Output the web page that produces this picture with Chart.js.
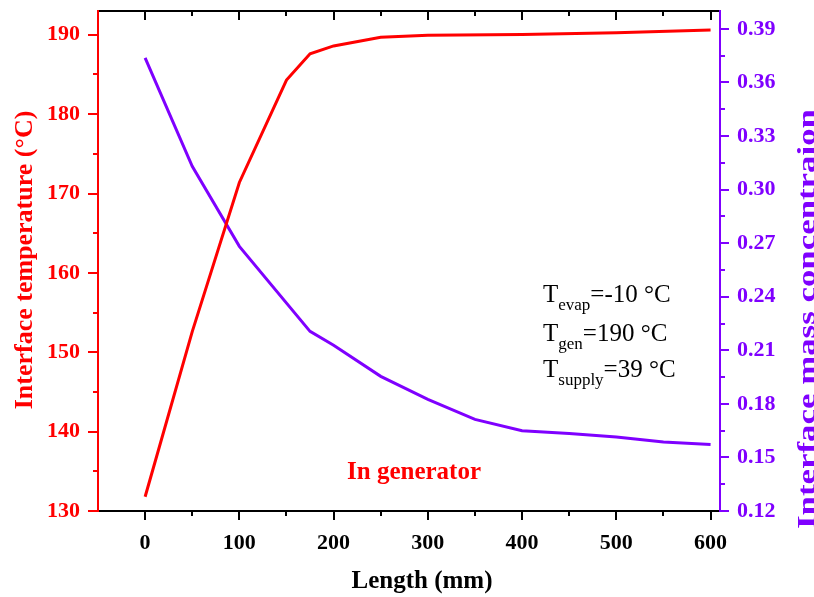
<!DOCTYPE html>
<html>
<head>
<meta charset="utf-8">
<script src="https://cdn.jsdelivr.net/npm/chart.js@4.4.1/dist/chart.umd.min.js"></script>
<style>
  html, body { margin: 0; padding: 0; background: #ffffff; }
  #wrap { width: 814px; height: 597px; }
</style>
</head>
<body>
<div id="wrap"><canvas id="c" width="814" height="597"></canvas></div>
<script>
// ---- data ----
const tempX = [0, 50, 100, 150, 175, 200, 250, 300, 400, 500, 600];
const tempY = [131.8, 152.6, 171.4, 184.3, 187.6, 188.6, 189.7, 189.95, 190.05, 190.25, 190.6];
const concX = [0, 50, 100, 175, 200, 250, 300, 350, 400, 450, 500, 550, 600];
const concY = [0.3738, 0.3130, 0.2682, 0.2206, 0.2128, 0.1954, 0.1825, 0.1713, 0.1650, 0.1634, 0.1614, 0.1586, 0.1573];
const xTicks = [0, 100, 200, 300, 400, 500, 600];
const xMinor = [50, 150, 250, 350, 450, 550];
const leftTicks = [130, 140, 150, 160, 170, 180, 190];
const leftMinor = [135, 145, 155, 165, 175, 185];
const rightTicks = [0.12, 0.15, 0.18, 0.21, 0.24, 0.27, 0.30, 0.33, 0.36, 0.39];
const rightMinor = [0.135, 0.165, 0.195, 0.225, 0.255, 0.285, 0.315, 0.345, 0.375];
const xTitle = 'Length (mm)';
const leftTitle = 'Interface temperature (°C)';
const rightTitle = 'Interface mass concentraion';
const noteLines = [['T', 'evap', '=-10 °C'], ['T', 'gen', '=190 °C'], ['T', 'supply', '=39 °C']];
const noteLabel = 'In generator';

const RED = '#ff0000';
const PURPLE = '#7f00ff';
const SERIF = '"Liberation Serif", "Times New Roman", serif';

const toPts = (xs, ys) => xs.map((x, i) => ({ x: x, y: ys[i] }));

const zeroPad = s => { s.paddingTop = 0; s.paddingBottom = 0; s.paddingLeft = 0; s.paddingRight = 0; };

const axesPlugin = {
  id: 'axesPlugin',
  afterDraw(chart) {
    const ctx = chart.ctx;
    const a = chart.chartArea;
    const sx = chart.scales.x, sl = chart.scales.y, sr = chart.scales.y1;
    ctx.save();
    ctx.lineCap = 'butt';
    // bottom and top frame
    ctx.strokeStyle = '#000';
    ctx.lineWidth = 2;
    ctx.beginPath();
    ctx.moveTo(a.left, a.bottom); ctx.lineTo(a.right, a.bottom);
    ctx.moveTo(a.left, a.top); ctx.lineTo(a.right, a.top);
    ctx.stroke();
    ctx.beginPath();
    xTicks.forEach(v => {
      const p = Math.round(sx.getPixelForValue(v));
      ctx.moveTo(p, a.bottom); ctx.lineTo(p, a.bottom + 9);
      ctx.moveTo(p, a.top); ctx.lineTo(p, a.top + 9);
    });
    xMinor.forEach(v => {
      const p = Math.round(sx.getPixelForValue(v));
      ctx.moveTo(p, a.bottom); ctx.lineTo(p, a.bottom + 5);
      ctx.moveTo(p, a.top); ctx.lineTo(p, a.top + 5);
    });
    ctx.stroke();
    // left axis
    ctx.strokeStyle = RED;
    ctx.beginPath();
    ctx.moveTo(a.left, a.top - 1); ctx.lineTo(a.left, a.bottom + 1);
    leftTicks.forEach(v => {
      const p = Math.round(sl.getPixelForValue(v));
      ctx.moveTo(a.left, p); ctx.lineTo(a.left - 10, p);
    });
    leftMinor.forEach(v => {
      const p = Math.round(sl.getPixelForValue(v));
      ctx.moveTo(a.left, p); ctx.lineTo(a.left - 5, p);
    });
    ctx.stroke();
    // right axis
    ctx.strokeStyle = PURPLE;
    ctx.beginPath();
    ctx.moveTo(a.right, a.top - 1); ctx.lineTo(a.right, a.bottom + 1);
    rightTicks.forEach(v => {
      const p = Math.round(sr.getPixelForValue(v));
      ctx.moveTo(a.right, p); ctx.lineTo(a.right + 9, p);
    });
    rightMinor.forEach(v => {
      const p = Math.round(sr.getPixelForValue(v));
      ctx.moveTo(a.right, p); ctx.lineTo(a.right + 5, p);
    });
    ctx.stroke();

    // axis titles
    ctx.font = 'bold 25px ' + SERIF;
    ctx.fillStyle = '#000';
    ctx.textAlign = 'center';
    ctx.textBaseline = 'alphabetic';
    ctx.fillText(xTitle, 422, 588);

    ctx.save();
    ctx.fillStyle = RED;
    ctx.font = 'bold 26px ' + SERIF;
    ctx.translate(32, 260);
    ctx.rotate(-Math.PI / 2);
    ctx.fillText(leftTitle, 0, 0);
    ctx.restore();

    ctx.save();
    ctx.fillStyle = PURPLE;
    ctx.font = 'bold 26px ' + SERIF;
    const w = ctx.measureText(rightTitle).width;
    ctx.translate(815, 319);
    ctx.rotate(-Math.PI / 2);
    ctx.scale(420 / w, 1);
    ctx.fillText(rightTitle, 0, 0);
    ctx.restore();

    // annotation
    ctx.textAlign = 'left';
    ctx.fillStyle = '#000';
    const baselines = [302, 341, 377];
    noteLines.forEach((ln, i) => {
      let x = 543;
      const y = baselines[i];
      ctx.font = '25px ' + SERIF;
      ctx.fillText(ln[0], x, y);
      x += ctx.measureText(ln[0]).width;
      ctx.font = '17px ' + SERIF;
      ctx.fillText(ln[1], x, y + 8);
      x += ctx.measureText(ln[1]).width;
      ctx.font = '25px ' + SERIF;
      ctx.fillText(ln[2], x, y);
    });
    ctx.fillStyle = RED;
    ctx.font = 'bold 25px ' + SERIF;
    ctx.fillText(noteLabel, 347, 479);
    ctx.restore();
  }
};

new Chart(document.getElementById('c'), {
  type: 'line',
  data: {
    datasets: [
      { label: 'T', data: toPts(tempX, tempY), yAxisID: 'y', borderColor: RED, borderWidth: 3, pointRadius: 0, tension: 0, fill: false },
      { label: 'C', data: toPts(concX, concY), yAxisID: 'y1', borderColor: PURPLE, borderWidth: 3, pointRadius: 0, tension: 0, fill: false }
    ]
  },
  options: {
    responsive: false,
    animation: false,
    layout: { padding: { top: 11, left: 0, right: 0, bottom: 0 } },
    plugins: { legend: { display: false }, tooltip: { enabled: false } },
    scales: {
      x: {
        type: 'linear', position: 'bottom', min: -50, max: 610,
        afterBuildTicks: s => { s.ticks = xTicks.map(v => ({ value: v })); },
        afterFit: s => { s.height = 86; zeroPad(s); },
        grid: { display: false, drawTicks: false }, border: { display: false },
        ticks: { color: '#000', font: { family: SERIF, size: 22, weight: 'bold' }, padding: 19, maxRotation: 0, autoSkip: false }
      },
      y: {
        type: 'linear', position: 'left', min: 130, max: 193,
        afterBuildTicks: s => { s.ticks = leftTicks.map(v => ({ value: v })); },
        afterFit: s => { s.width = 98; zeroPad(s); },
        grid: { display: false, drawTicks: false }, border: { display: false },
        ticks: { color: RED, font: { family: SERIF, size: 22, weight: 'bold' }, padding: 18, autoSkip: false }
      },
      y1: {
        type: 'linear', position: 'right', min: 0.12, max: 0.40,
        afterBuildTicks: s => { s.ticks = rightTicks.map(v => ({ value: v })); },
        afterFit: s => { s.width = 94; zeroPad(s); },
        grid: { display: false, drawTicks: false }, border: { display: false },
        ticks: { color: PURPLE, font: { family: SERIF, size: 22, weight: 'bold' }, padding: 17, autoSkip: false, callback: v => v.toFixed(2) }
      }
    }
  },
  plugins: [axesPlugin]
});
</script>
</body>
</html>
